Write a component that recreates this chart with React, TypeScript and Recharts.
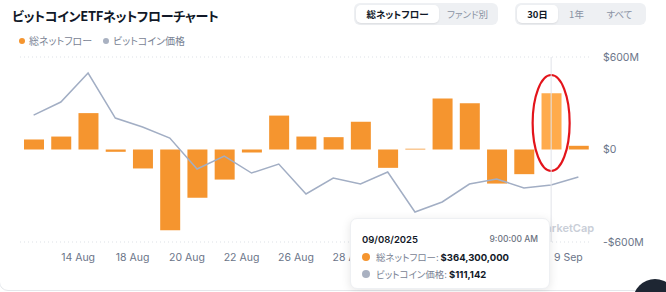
import React from 'react';
import { ComposedChart, Bar, Line, XAxis, YAxis, CartesianGrid, Tooltip, ReferenceDot } from 'recharts';

const dates = ['08/12', '08/13', '08/14', '08/15', '08/18', '08/19', '08/20', '08/21', '08/22', '08/25', '08/26', '08/27', '08/28', '08/29', '09/01', '09/02', '09/03', '09/04', '09/05', '09/08', '09/09'];
const dayLabels = ['12 Aug', '13 Aug', '14 Aug', '15 Aug', '18 Aug', '19 Aug', '20 Aug', '21 Aug', '22 Aug', '25 Aug', '26 Aug', '27 Aug', '28 Aug', '29 Aug', '1 Sep', '2 Sep', '3 Sep', '4 Sep', '5 Sep', '8 Sep', '9 Sep'];
// net flow in $M
const netFlow = [65, 84, 236, -15, -123, -523, -313, -195, -20, 220, 84, 80, 180, -119, 5, 331, 300, -221, -160, 364.3, 24];
const btcPrice = [118742, 120156, 123300, 118418, 117441, 116246, 112880, 114291, 112445, 113423, 110165, 111902, 111251, 112554, 108210, 109296, 111251, 111794, 110816, 111142, 112011];
const shownTicks = ['08/14', '08/18', '08/20', '08/22', '08/26', '08/28', '09/09'];
const flowTicks = [-600, -300, 0, 300, 600];

const ORANGE = '#F5952F';
const ORANGE_LIGHT = '#FFAB4C';
const GREY_LINE = '#A2AEC4';
const FONT = "Inter, 'Noto Sans CJK JP', sans-serif";
const JP = "'Noto Sans CJK JP', Inter, sans-serif";

const data = dates.map((d, i) => ({ date: d, label: dayLabels[i], flow: netFlow[i], price: btcPrice[i] }));

const XTick = (props: any) => {
  const { x, y, payload } = props;
  const idx = dates.indexOf(payload.value);
  return (
    <text x={x - 10} y={y} dy="0.71em" textAnchor="middle" fontSize={10.5} fill="#6B7589" fontFamily={FONT}>
      {dayLabels[idx]}
    </text>
  );
};

const fmtFlow = (v: number) => (v === 0 ? '$0' : v < 0 ? `-$${Math.abs(v)}M` : `$${v}M`);

const TipContent = (props: any) => {
  const { active, payload } = props;
  if (!active || !payload || !payload.length) return null;
  const row = payload[0].payload;
  const label = { color: '#7A8394', fontFeatureSettings: '"palt"' };
  const val = { fontFamily: FONT, fontWeight: 700, color: '#111827', marginLeft: 2 };
  return (
    <div style={{ width: 200, height: 71, background: '#fff', borderRadius: 7, boxShadow: '0 2px 10px rgba(0,0,0,0.10)', border: '1px solid #EEF0F3', boxSizing: 'border-box', padding: '13px 11px 0 11px', fontFamily: JP }}>
      <div style={{ display: 'flex', justifyContent: 'space-between', alignItems: 'center', height: 14 }}>
        <span style={{ fontFamily: FONT, fontWeight: 600, fontSize: 9.5, color: '#111827' }}>{row.date}/2025</span>
        <span style={{ fontFamily: FONT, fontWeight: 500, fontSize: 8.5, color: '#6B7280' }}>9:00:00 AM</span>
      </div>
      <div style={{ display: 'flex', alignItems: 'center', marginTop: 3, height: 16, fontSize: 9.5 }}>
        <span style={{ width: 8, height: 8, borderRadius: 4, background: ORANGE, marginRight: 6 }} />
        <span style={label}>総ネットフロー:</span>
        <span style={val}>${Math.round(row.flow * 1e6).toLocaleString('en-US')}</span>
      </div>
      <div style={{ display: 'flex', alignItems: 'center', marginTop: 1, height: 16, fontSize: 9.5 }}>
        <span style={{ width: 8, height: 8, borderRadius: 4, background: '#A9B1C1', marginRight: 6 }} />
        <span style={label}>ビットコイン価格:</span>
        <span style={val}>${row.price.toLocaleString('en-US')}</span>
      </div>
    </div>
  );
};

const Toggle = ({ items, width, widths }: { items: string[]; width: number; widths: number[] }) => (
  <div style={{ display: 'flex', background: '#EEF0F3', borderRadius: 6, padding: 2, width, height: 18, boxSizing: 'content-box' }}>
    {items.map((t, i) => (
      <div key={t} style={{ width: widths[i], height: 18, lineHeight: '18px', textAlign: 'center', borderRadius: 5, fontSize: 9.5, fontFamily: JP, fontFeatureSettings: '"palt"', background: i === 0 ? '#fff' : 'transparent', color: i === 0 ? '#111827' : '#8A93A3', fontWeight: i === 0 ? 700 : 400, boxShadow: i === 0 ? '0 1px 2px rgba(0,0,0,0.08)' : 'none' }}>
        {t}
      </div>
    ))}
  </div>
);

export default function App() {
  return (
    <div style={{ position: 'fixed', left: 0, top: 0, width: 666, height: 292, background: '#fff', overflow: 'hidden' }}>
      <div style={{ position: 'absolute', left: -1, top: -10, width: 720, height: 299, border: '1px solid #E4E7EB', borderRadius: 9 }} />
      <div style={{ position: 'absolute', left: 12, top: 6, fontSize: 13, letterSpacing: -0.3, fontWeight: 700, color: '#111827', fontFamily: JP, fontFeatureSettings: '"palt"', whiteSpace: 'nowrap' }}>
        ビットコインETFネットフローチャート
      </div>
      <div style={{ position: 'absolute', left: 354, top: 3 }}>
        <Toggle items={['総ネットフロー', 'ファンド別']} width={140} widths={[83, 57]} />
      </div>
      <div style={{ position: 'absolute', left: 515, top: 3 }}>
        <Toggle items={['30日', '1年', 'すべて']} width={127} widths={[41, 37, 49]} />
      </div>
      <div style={{ position: 'absolute', left: 19, top: 33, display: 'flex', alignItems: 'center', fontSize: 10, color: '#7A8394', fontFamily: JP, fontFeatureSettings: '"palt"' }}>
        <span style={{ width: 6, height: 6, borderRadius: 3, background: ORANGE, marginRight: 4 }} />
        <span>総ネットフロー</span>
        <span style={{ width: 6, height: 6, borderRadius: 3, background: '#A9B1C1', marginLeft: 11, marginRight: 4 }} />
        <span>ビットコイン価格</span>
      </div>
      <div style={{ position: 'absolute', left: 511, top: 221, fontSize: 11, fontWeight: 600, color: '#C9CED7', fontFamily: FONT }}>CoinMarketCap</div>
      <div style={{ position: 'absolute', left: 0, top: 0 }}>
        <ComposedChart width={666} height={292} data={data} margin={{ top: 57, right: 0, left: 20, bottom: 20 }}>
          <CartesianGrid horizontal vertical={false} stroke="#DDE1E6" strokeDasharray="1 3" />
          <XAxis dataKey="date" axisLine={false} tickLine={false} ticks={shownTicks} interval={0} tick={<XTick />} tickMargin={6} height={30} />
          <YAxis yAxisId="flow" orientation="right" domain={[-600, 600]} ticks={flowTicks} width={74} axisLine={false} tickLine={false} tickMargin={5}
            tickFormatter={(v: number) => (Math.abs(v) === 300 ? '' : fmtFlow(v))}
            tick={{ fontSize: 10.5, fill: '#6B7589', fontFamily: FONT, textAnchor: 'start' }} />
          <YAxis yAxisId="price" hide domain={[104950, 125050]} />
          <Tooltip defaultIndex={19} content={<TipContent />} position={{ x: 350, y: 218 }} cursor={{ stroke: '#E1E4E9', strokeWidth: 1 }}
            wrapperStyle={{ zIndex: 10 }} isAnimationActive={false} />
          <Bar yAxisId="flow" dataKey="flow" fill={ORANGE} barSize={20} activeBar={{ fill: ORANGE_LIGHT }} isAnimationActive={false} />
          <Line yAxisId="price" dataKey="price" type="linear" stroke={GREY_LINE} strokeWidth={1.5} dot={false} activeDot={false} isAnimationActive={false} />
          <ReferenceDot yAxisId="flow" x="09/08" y={172} r={1}
            shape={(p: any) => <ellipse cx={p.cx} cy={p.cy} rx={18.5} ry={48} fill="none" stroke="#E3141B" strokeWidth={2.2} />} />
        </ComposedChart>
      </div>
      <div style={{ position: 'absolute', left: 633, top: 279, width: 44, height: 44, borderRadius: 22, background: '#1E2633' }} />
    </div>
  );
}
